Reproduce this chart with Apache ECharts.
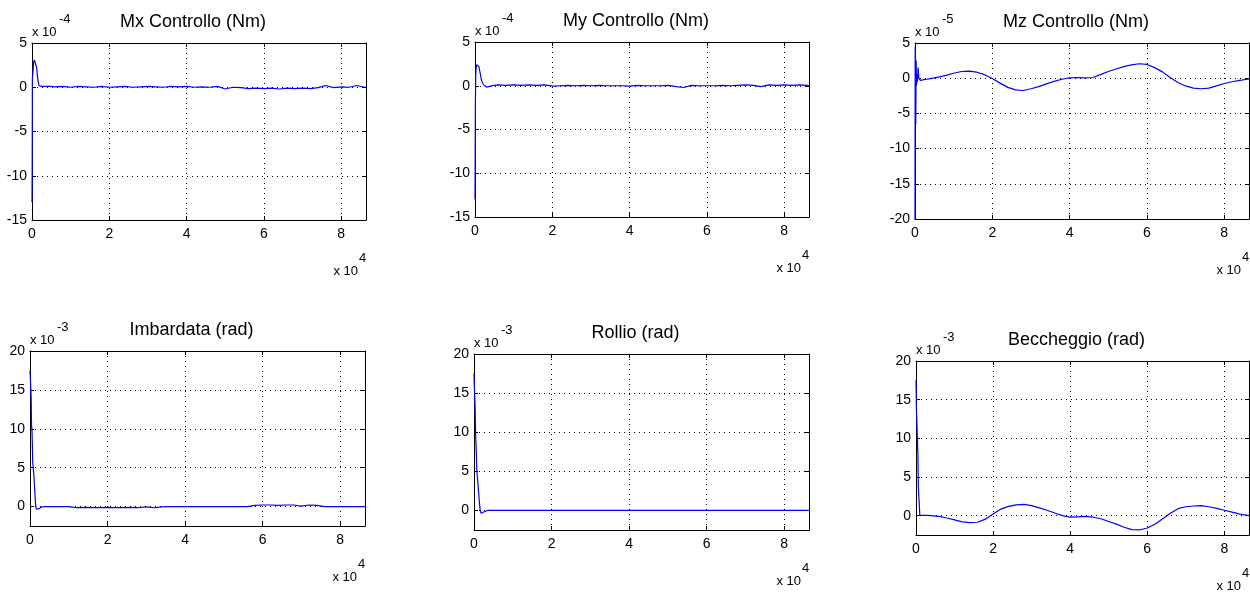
<!DOCTYPE html>
<html>
<head>
<meta charset="utf-8">
<title>Controllo e assetto</title>
<script src="https://cdn.jsdelivr.net/npm/echarts@6/dist/echarts.min.js"></script>
<style>
  html, body { margin: 0; padding: 0; background: #fff; }
  #chart { width: 1250px; height: 592px; }
</style>
</head>
<body>
<div id="chart"></div>
<script>
// tempo di simulazione (s)
const tempo = [0, 50, 100, 200, 300, 400, 500, 600, 700, 800, 1000, 1200, 1400, 1600, 1800, 2000, 2200, 2500, 3000, 3500, 4000, 5000,
  6000, 8000, 10000, 12000, 14000, 16000, 18000, 20000, 22000, 24000, 26000, 28000, 30000, 32000, 34000, 36000, 38000, 40000, 42000, 44000,
  46000, 48000, 50000, 52000, 54000, 56000, 58000, 60000, 62000, 64000, 66000, 68000, 70000, 72000, 74000, 76000, 78000, 80000, 82000, 84000,
  86000, 86400]

// coppie di controllo, Mx e My in 1e-4 Nm, Mz in 1e-5 Nm
const mxControllo = [-13, -9, 1, 1, 2, 2.8, 3, 3.1, 3, 3, 2.9, 2.2, 1.3, 0.6, 0.2, 0, 0.05, 0.1, 0, 0.1, 0, 0.1,
  0.05, 0.1, 0, 0.1, 0.05, 0, 0.1, 0, 0.05, 0.1, 0, 0.05, 0.1, 0.05, 0, 0.1, 0.05, 0.1, 0, 0.05,
  0, 0.1, -0.2, 0, -0.05, -0.15, -0.1, -0.15, -0.1, -0.2, -0.1, -0.15, -0.1, -0.15, -0.05, 0.2, -0.05, 0.05, 0, 0.2,
  0, 0]
const myControllo = [-13, -8, -2, 1.5, 2, 2.4, 2.5, 2.5, 2.4, 2.3, 2.2, 2, 1.3, 0.8, 0.5, 0.3, 0.1, 0, -0.15, -0.2, -0.05, 0.05,
  0.1, 0.05, 0.1, 0.05, 0.1, 0.05, 0.1, -0.05, 0, 0.05, 0, 0.05, 0, 0.05, 0, 0, 0, -0.05, 0.05, 0,
  0, 0, 0.05, -0.1, -0.2, 0.05, 0, 0, 0, 0.05, 0, 0.05, 0.1, 0.05, -0.1, 0.1, 0.05, 0.1, 0.05, 0.1,
  0.05, 0]
const mzControllo = [-20, 4.5, 3.5, -6.5, 2.5, -1, 0.5, -0.5, 0.2, 1.5, 0, -0.2, -0.3, -0.3, -0.25, -0.25, -0.2, -0.2, -0.15, -0.1, -0.05, 0.05,
  0.15, 0.4, 0.7, 0.95, 1, 0.85, 0.5, -0.05, -0.7, -1.3, -1.65, -1.75, -1.5, -1.2, -0.8, -0.45, -0.15, 0.05, 0.1, 0.05,
  0.1, 0.5, 0.95, 1.3, 1.65, 1.9, 2.05, 1.95, 1.5, 0.9, 0.1, -0.6, -1.1, -1.4, -1.5, -1.4, -1.1, -0.75, -0.5, -0.3,
  -0.15, -0.1]

// angoli di assetto in 1e-3 rad
const imbardata = [17.5, 17, 16.5, 16.5, 14, 10.3, 10, 8, 5.7, 5.6, 4, 2.3, 0.5, -0.3, -0.5, -0.45, -0.3, -0.15, -0.05, 0, 0, 0,
  0, 0, 0, -0.15, -0.1, -0.15, -0.15, -0.1, -0.15, -0.15, -0.1, -0.15, -0.05, -0.15, -0.05, 0, 0, 0, 0, 0,
  0, 0, 0, 0, 0, 0, 0.15, 0.2, 0.2, 0.15, 0.2, 0.2, 0.05, 0.2, 0.15, 0, 0, 0, 0, 0,
  0, 0]
const rollio = [17.5, 16.5, 16.5, 16.3, 13, 10, 9.8, 7.5, 5.3, 5.2, 3.5, 2.3, 1, 0, -0.35, -0.4, -0.35, -0.2, -0.05, 0, 0, 0,
  0, 0, 0, 0, 0, 0, 0, 0, 0, 0, 0, 0, 0, 0, 0, 0, 0, 0, 0, 0,
  0, 0, 0, 0, 0, 0, 0, 0, 0, 0, 0, 0, 0, 0, 0, 0, 0, 0, 0, 0,
  0, 0]
const beccheggio = [17.5, 16, 14, 14, 14, 14, 8, 4, 2.7, 2, 0, 0.05, 0.05, 0.05, 0.05, 0.05, 0.05, 0.05, 0.05, 0, 0, -0.05,
  -0.1, -0.3, -0.55, -0.8, -0.9, -0.85, -0.45, 0.2, 0.85, 1.2, 1.4, 1.45, 1.3, 1, 0.7, 0.35, 0, -0.2, -0.15, -0.1,
  -0.2, -0.4, -0.75, -1.1, -1.5, -1.8, -1.85, -1.6, -1.1, -0.4, 0.3, 0.9, 1.15, 1.25, 1.3, 1.15, 0.95, 0.7, 0.45, 0.2,
  0.05, 0]

// tacche degli assi
const xTicks = [0, 20000, 40000, 60000, 80000]
const yTicksMxy = [-15, -10, -5, 0, 5]
const yTicksMz = [-20, -15, -10, -5, 0, 5]
const yTicksAng = [0, 5, 10, 15, 20]

const panels = [
  { title: 'Mx Controllo (Nm)', exp: '-4', values: mxControllo, min: -15, max: 5, ticks: yTicksMxy, box: [32, 43, 334, 177] },
  { title: 'My Controllo (Nm)', exp: '-4', values: myControllo, min: -15, max: 5, ticks: yTicksMxy, box: [475, 42, 334, 175] },
  { title: 'Mz Controllo (Nm)', exp: '-5', values: mzControllo, min: -20, max: 5, ticks: yTicksMz, box: [915, 43, 334, 176] },
  { title: 'Imbardata (rad)', exp: '-3', values: imbardata, min: -2.5, max: 20, ticks: yTicksAng, box: [30, 351, 335, 175] },
  { title: 'Rollio (rad)', exp: '-3', values: rollio, min: -2.5, max: 20, ticks: yTicksAng, box: [474, 354, 335, 176] },
  { title: 'Beccheggio (rad)', exp: '-3', values: beccheggio, min: -2.5, max: 20, ticks: yTicksAng, box: [916, 361, 333, 174] }
]

const FONT = '"Liberation Sans", Arial, sans-serif'
const gridLine = { show: true, lineStyle: { color: '#000', width: 1, type: [1, 4] } }

function makeX(i, pos, main) {
  return {
    type: 'value', gridIndex: i, position: pos, min: 0, max: 86400,
    axisLine: { show: true, onZero: false, lineStyle: { color: '#000', width: 1 } },
    axisTick: { show: true, inside: true, length: 4, customValues: xTicks, lineStyle: { color: '#000' } },
    axisLabel: main ? { show: true, customValues: xTicks, margin: 7, color: '#000', fontFamily: FONT, fontSize: 14,
      formatter: v => String(v / 10000) } : { show: false },
    splitLine: main ? gridLine : { show: false }
  }
}

function makeY(i, pos, main, p) {
  return {
    type: 'value', gridIndex: i, position: pos, min: p.min, max: p.max,
    axisLine: { show: true, onZero: false, lineStyle: { color: '#000', width: 1 } },
    axisTick: { show: true, inside: true, length: 4, customValues: p.ticks, lineStyle: { color: '#000' } },
    axisLabel: main ? { show: true, customValues: p.ticks, margin: 5, color: '#000', fontFamily: FONT, fontSize: 14 } : { show: false },
    splitLine: main ? gridLine : { show: false }
  }
}

function txt(x, y, text, size, align) {
  return { type: 'text', x: x, y: y, silent: true,
    style: { text: text, fill: '#000', font: size + 'px ' + FONT, align: align, verticalAlign: 'middle' } }
}

const grid = [], xAxis = [], yAxis = [], series = [], graphic = []
panels.forEach((p, i) => {
  const [l, t, w, h] = p.box
  grid.push({ left: l, top: t, width: w, height: h })
  xAxis.push(makeX(i, 'bottom', true), makeX(i, 'top', false))
  yAxis.push(makeY(i, 'left', true, p), makeY(i, 'right', false, p))
  series.push({
    type: 'line', name: p.title, xAxisIndex: 2 * i, yAxisIndex: 2 * i,
    data: tempo.map((s, k) => [s, p.values[k]]),
    showSymbol: false, clip: true,
    lineStyle: { color: '#0000ff', width: 1.2 }
  })
  // titolo ed esponenti in stile matlab
  graphic.push(txt(l + w / 2 - 6, t - 21, p.title, 18, 'center'))
  graphic.push(txt(l, t - 11, 'x 10', 13, 'left'))
  graphic.push(txt(l + 27, t - 24, p.exp, 13, 'left'))
  graphic.push(txt(l + w - 8, t + h + 51, 'x 10', 13, 'right'))
  graphic.push(txt(l + w - 7, t + h + 38, '4', 13, 'left'))
})

const chart = echarts.init(document.getElementById('chart'))
chart.setOption({
  backgroundColor: '#fff',
  animation: false,
  grid: grid,
  xAxis: xAxis,
  yAxis: yAxis,
  series: series,
  graphic: graphic
})
</script>
</body>
</html>
